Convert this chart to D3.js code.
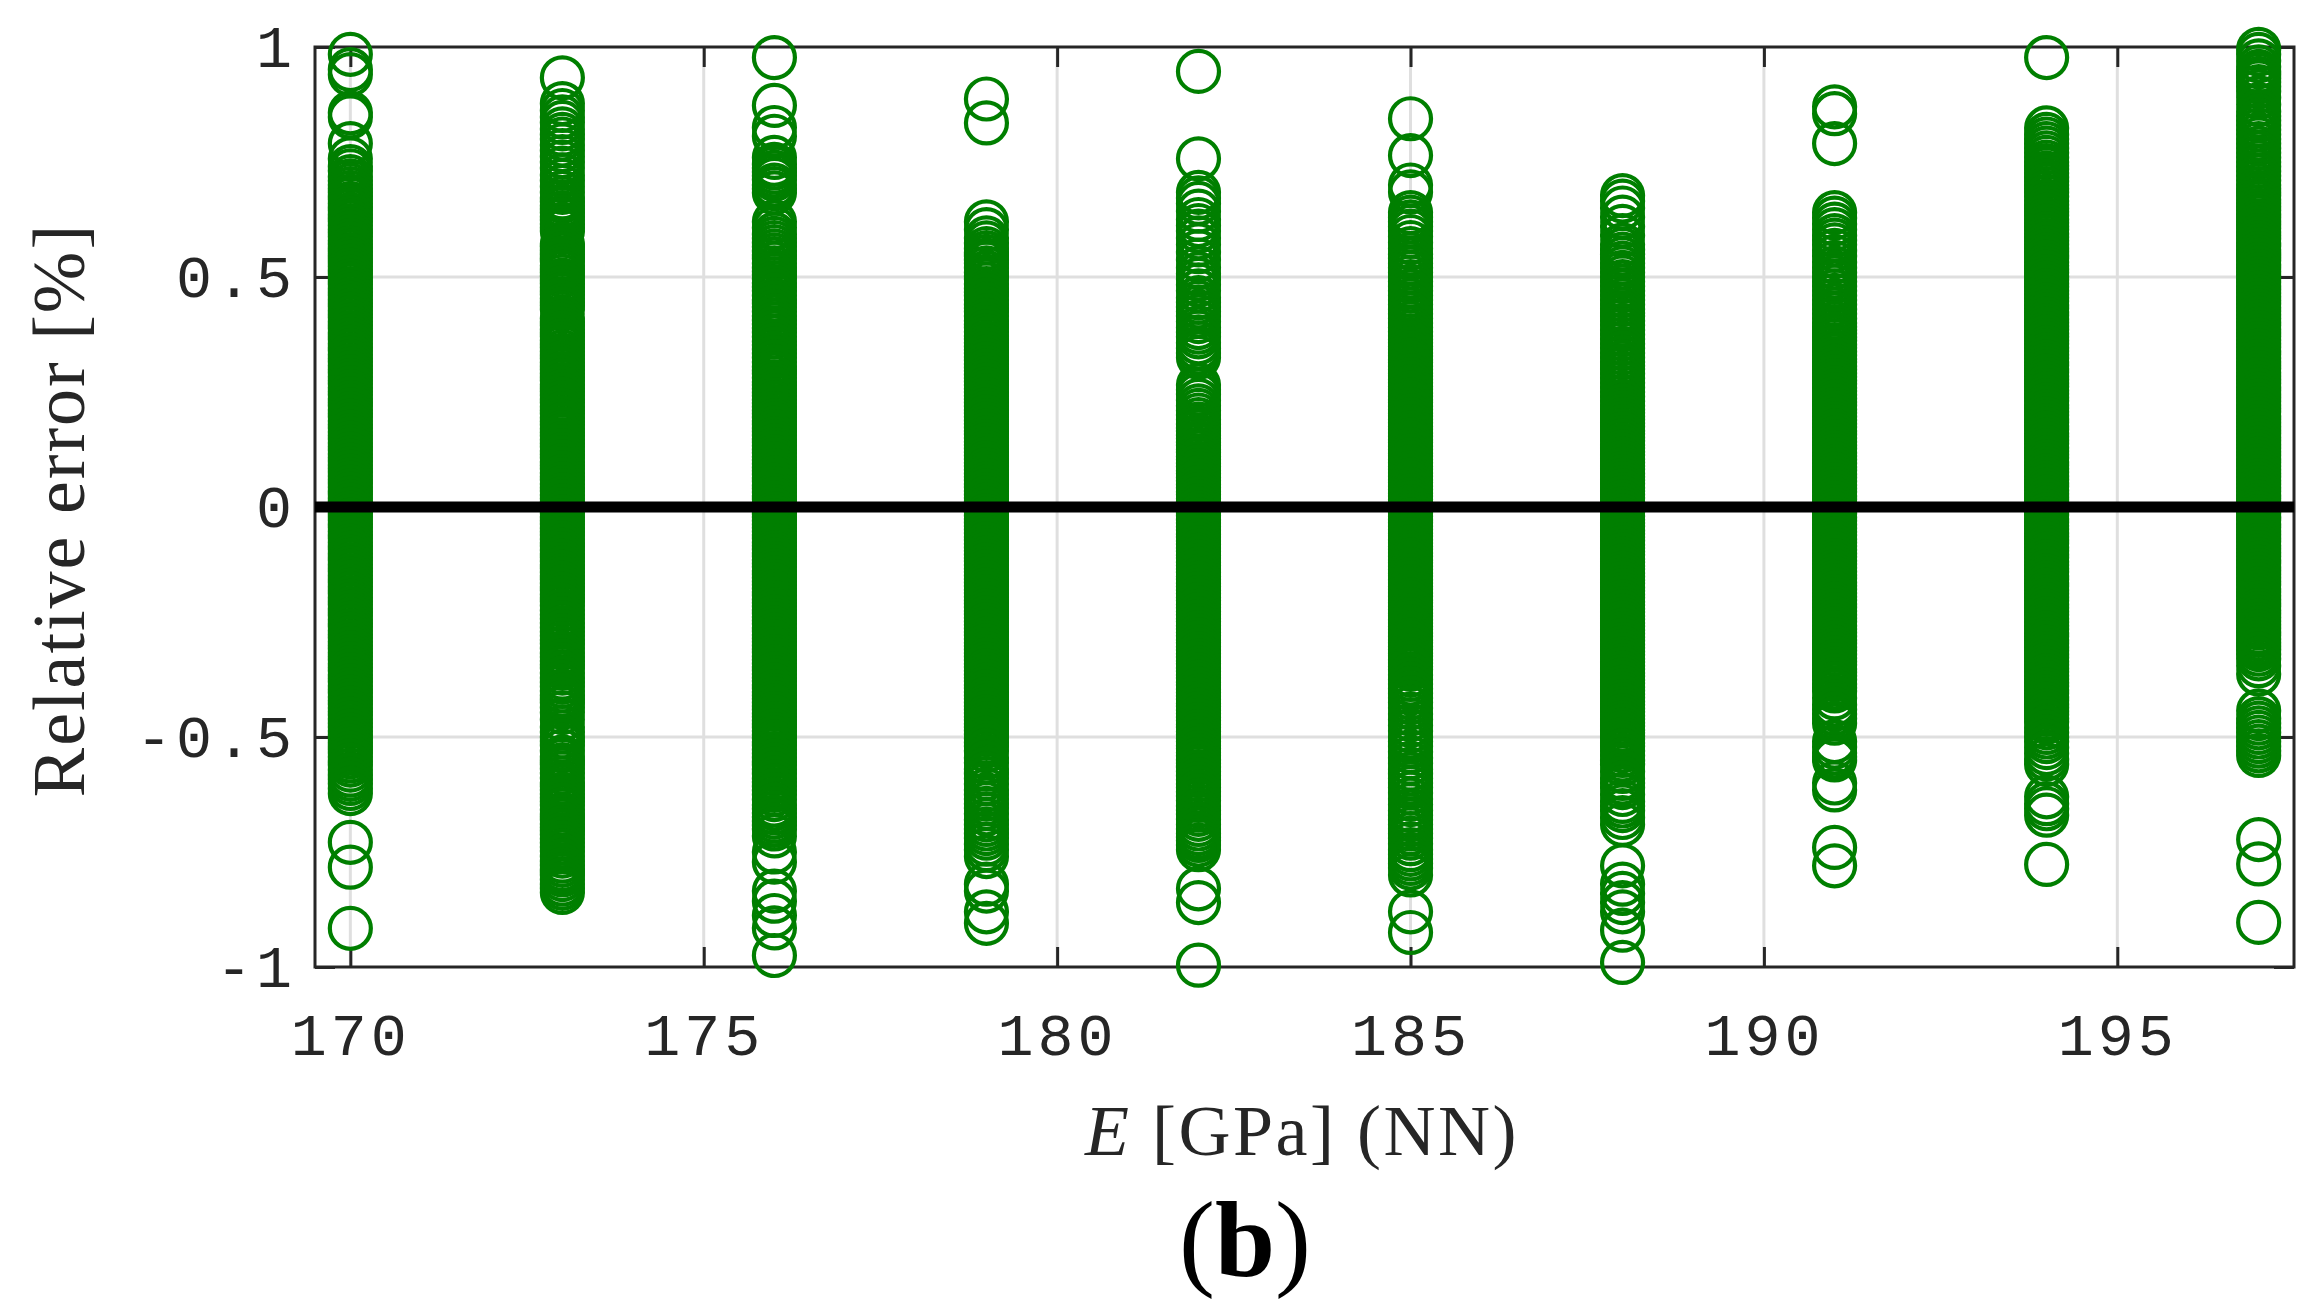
<!DOCTYPE html>
<html><head><meta charset="utf-8">
<script src="https://cdn.jsdelivr.net/npm/d3@7"></script>
<style>body{margin:0;background:#fff}</style>
</head><body>
<svg id="chart" width="2321" height="1310"></svg>
<script>
// ---- data ----
const xTickValues = [170, 175, 180, 185, 190, 195];
const xTickLabels = ["170", "175", "180", "185", "190", "195"];
const yTickValues = [-1, -0.5, 0, 0.5, 1];
const yTickLabels = ["-1", "-0.5", "0", "0.5", "1"];
const moduli = [170, 173, 176, 179, 182, 185, 188, 191, 194, 197];

const err170 = [0.984, 0.951, 0.94, 0.857, 0.848, 0.79, 0.757, 0.74, 0.731, 0.718, 0.709, 0.70, 0.692,
  0.684, 0.676, 0.669, 0.66, 0.652, 0.645, 0.636, 0.628, 0.621, 0.612, 0.603, 0.596, 0.588, 0.579, 0.572, 0.563, 0.556, 0.547, 0.539, 0.532, 0.523, 0.515, 0.508, 0.499, 0.491, 0.484, 0.475, 0.467, 0.46, 0.451, 0.443, 0.436, 0.427, 0.419, 0.412, 0.403, 0.395, 0.388, 0.379, 0.371, 0.364, 0.355, 0.347, 0.34, 0.331, 0.323, 0.316, 0.307, 0.299, 0.292, 0.283, 0.275, 0.268, 0.259, 0.251, 0.244, 0.235, 0.227, 0.22, 0.211, 0.203, 0.196, 0.187, 0.179, 0.172, 0.163, 0.155, 0.148, 0.139, 0.131, 0.124, 0.115, 0.107, 0.1, 0.091, 0.083, 0.076, 0.067, 0.059, 0.052, 0.043, 0.035, 0.028, 0.019, 0.011, 0.004, -0.005, -0.013, -0.02, -0.029, -0.037, -0.044, -0.053, -0.061, -0.068, -0.077, -0.085, -0.092, -0.101, -0.109, -0.116, -0.125, -0.133, -0.14, -0.149, -0.157, -0.164, -0.173, -0.181, -0.188, -0.197, -0.205, -0.212, -0.221, -0.229, -0.236, -0.245, -0.253, -0.26, -0.269, -0.277, -0.284, -0.293, -0.301, -0.308, -0.317, -0.325, -0.332, -0.341, -0.349, -0.356, -0.365, -0.373, -0.38, -0.389, -0.397, -0.404, -0.413, -0.421, -0.428, -0.437, -0.445, -0.452, -0.461,
  -0.47, -0.478, -0.487, -0.496, -0.504, -0.512, -0.52, -0.527, -0.535, -0.543, -0.552, -0.561, -0.572, -0.583, -0.592, -0.601, -0.612, -0.623, -0.729, -0.783, -0.916];
const err173 = [0.933, 0.877, 0.862, 0.848, 0.836, 0.822, 0.81, 0.80, 0.787, 0.775, 0.762, 0.75, 0.737, 0.722, 0.71, 0.697, 0.684,
  0.672, 0.664, 0.655, 0.648, 0.64, 0.631, 0.624, 0.615, 0.607, 0.60, 0.572, 0.566, 0.558, 0.55, 0.541, 0.534, 0.525, 0.517, 0.51, 0.502, 0.493, 0.486, 0.477, 0.469, 0.462, 0.453, 0.445, 0.438, 0.43, 0.41, 0.402, 0.395, 0.386, 0.378, 0.371, 0.362, 0.354, 0.347, 0.338, 0.33, 0.323, 0.314, 0.306, 0.299, 0.29, 0.282, 0.275, 0.266, 0.258, 0.251, 0.243, 0.234, 0.227, 0.218, 0.21, 0.203, 0.194, 0.186, 0.179, 0.17, 0.162, 0.155, 0.146, 0.138, 0.131, 0.122, 0.114, 0.107, 0.098, 0.09, 0.083, 0.074, 0.066, 0.059, 0.05, 0.042, 0.035, 0.026, 0.018, 0.011, 0.002, -0.006, -0.013, -0.022, -0.03, -0.037, -0.046, -0.054, -0.061, -0.07, -0.078, -0.085, -0.094, -0.102, -0.109, -0.118, -0.126, -0.133, -0.142, -0.15, -0.157, -0.166, -0.174, -0.181, -0.19, -0.198, -0.205, -0.214,
  -0.225, -0.234, -0.243, -0.252, -0.262, -0.271, -0.28, -0.289, -0.297, -0.307, -0.318, -0.326, -0.335, -0.343, -0.35, -0.361, -0.372, -0.381, -0.39, -0.40, -0.41, -0.418, -0.425, -0.436, -0.447, -0.462, -0.478, -0.489, -0.50, -0.509, -0.518, -0.53, -0.543, -0.551, -0.56, -0.569, -0.578, -0.589, -0.60, -0.607, -0.615, -0.624, -0.632, -0.64, -0.648, -0.658, -0.668, -0.674, -0.68, -0.689, -0.697, -0.704, -0.712, -0.721, -0.73, -0.739, -0.748, -0.759, -0.77, -0.779, -0.788, -0.794, -0.80, -0.81, -0.82, -0.829, -0.838];
const err176 = [0.977, 0.873, 0.825, 0.806, 0.76, 0.745, 0.737, 0.728, 0.72, 0.712, 0.70, 0.692, 0.683, 0.62, 0.607,
  0.593, 0.584, 0.575, 0.566, 0.557, 0.548, 0.54, 0.53, 0.52, 0.512, 0.505, 0.496, 0.487, 0.478, 0.47, 0.46, 0.45, 0.443, 0.435, 0.425, 0.415, 0.406, 0.398, 0.389, 0.38, 0.37, 0.36, 0.352, 0.343, 0.334, 0.325, 0.315, 0.305, 0.297, 0.29, 0.281,
  0.272, 0.265, 0.257, 0.249, 0.242, 0.233, 0.226, 0.218, 0.21, 0.203, 0.195, 0.187, 0.18, 0.171, 0.164, 0.156, 0.148, 0.141, 0.133, 0.125, 0.118, 0.109, 0.102, 0.094, 0.086, 0.079, 0.071, 0.063, 0.056, 0.047, 0.04, 0.032, 0.024, 0.017, 0.009, 0.001, -0.006, -0.015, -0.022, -0.03, -0.038, -0.045, -0.053, -0.061, -0.068, -0.077, -0.084, -0.092, -0.1, -0.107, -0.115, -0.123, -0.13, -0.139, -0.146, -0.154, -0.162, -0.169, -0.177, -0.185, -0.192, -0.201, -0.208, -0.216, -0.224, -0.231, -0.239, -0.247, -0.254, -0.263, -0.27, -0.278, -0.286, -0.293, -0.301, -0.309, -0.316, -0.325, -0.332, -0.34, -0.348, -0.355, -0.363, -0.371, -0.378, -0.387, -0.394, -0.402, -0.41, -0.417, -0.425, -0.433, -0.44, -0.449, -0.456, -0.464, -0.472, -0.479, -0.487, -0.495, -0.502, -0.511, -0.518,
  -0.527, -0.536, -0.544, -0.553, -0.561, -0.57, -0.58, -0.59, -0.598, -0.607, -0.616, -0.625, -0.636, -0.648, -0.656, -0.665, -0.674, -0.683, -0.692, -0.70, -0.715, -0.75, -0.772, -0.835, -0.857, -0.888, -0.915, -0.975];
const err179 = [0.887, 0.835, 0.62, 0.603, 0.585, 0.574, 0.562, 0.553, 0.545, 0.537, 0.53, 0.52, 0.51, 0.502, 0.495, 0.485, 0.475, 0.467, 0.46, 0.45, 0.44, 0.432, 0.425, 0.415, 0.405, 0.397, 0.39, 0.381,
  0.372, 0.365, 0.357, 0.349, 0.342, 0.334, 0.326, 0.319, 0.311, 0.303, 0.296, 0.288, 0.28, 0.273, 0.265, 0.257, 0.25, 0.242, 0.234, 0.227, 0.219, 0.211, 0.204, 0.196, 0.188, 0.181, 0.173, 0.165, 0.158, 0.15, 0.142, 0.135, 0.127, 0.119, 0.112, 0.104, 0.096, 0.089, 0.081, 0.073, 0.066, 0.058, 0.05, 0.043, 0.035, 0.027, 0.02, 0.012, 0.004, -0.003, -0.011, -0.019, -0.026, -0.034, -0.042, -0.049, -0.057, -0.065, -0.072, -0.08, -0.088, -0.095, -0.103, -0.111, -0.118, -0.126, -0.134, -0.141, -0.149, -0.157, -0.164, -0.172, -0.18, -0.187, -0.195, -0.203, -0.21, -0.218, -0.226, -0.233, -0.241, -0.249, -0.256, -0.264, -0.272, -0.279, -0.287, -0.295, -0.302, -0.31, -0.318, -0.325, -0.333, -0.341, -0.348, -0.356, -0.364, -0.371, -0.379, -0.387, -0.394, -0.402, -0.41, -0.417, -0.425, -0.433, -0.44, -0.448, -0.456, -0.463, -0.471, -0.479, -0.486, -0.494,
  -0.503, -0.512, -0.52, -0.53, -0.545, -0.556, -0.57, -0.58, -0.59, -0.602, -0.615, -0.625, -0.635, -0.645, -0.655, -0.667, -0.68, -0.69, -0.70, -0.71, -0.72, -0.733, -0.745, -0.76, -0.82, -0.835, -0.88, -0.905];
const err182 = [0.947, 0.757, 0.684, 0.672, 0.66, 0.643, 0.625, 0.612, 0.60, 0.585, 0.57, 0.555, 0.537, 0.52, 0.507, 0.495, 0.483, 0.47, 0.455, 0.445, 0.435, 0.425, 0.415, 0.403, 0.39, 0.38, 0.37, 0.357, 0.345, 0.335, 0.325, 0.265, 0.255, 0.245, 0.232, 0.22, 0.21, 0.20, 0.19, 0.18,
  0.172, 0.165, 0.156, 0.149, 0.141, 0.134, 0.125, 0.119, 0.11, 0.103, 0.095, 0.088, 0.079, 0.073, 0.064, 0.057, 0.049, 0.042, 0.033, 0.027, 0.018, 0.011, 0.003, -0.004, -0.013, -0.019, -0.028, -0.035, -0.043, -0.05, -0.059, -0.065, -0.074, -0.081, -0.089, -0.096, -0.105, -0.111, -0.12, -0.127, -0.135, -0.142, -0.151, -0.157, -0.166, -0.173, -0.181, -0.188, -0.197, -0.203, -0.212, -0.219, -0.227, -0.234, -0.243, -0.249, -0.258, -0.265, -0.273, -0.28, -0.289, -0.295, -0.304, -0.311, -0.319, -0.326, -0.335, -0.341, -0.35, -0.357, -0.365, -0.372, -0.381, -0.387, -0.396, -0.403, -0.411, -0.418, -0.427, -0.433, -0.442, -0.449, -0.457, -0.464, -0.473, -0.479, -0.488, -0.495, -0.503, -0.51, -0.519, -0.525, -0.534, -0.541, -0.549,
  -0.557, -0.566, -0.575, -0.584, -0.593, -0.602, -0.61, -0.619, -0.628, -0.638, -0.65, -0.659, -0.668, -0.679, -0.69, -0.70, -0.71, -0.718, -0.725, -0.735, -0.745, -0.83, -0.86, -0.996];
const err185 = [0.844, 0.764, 0.70, 0.685, 0.64, 0.63, 0.62, 0.61, 0.60, 0.588, 0.575, 0.562, 0.55, 0.54, 0.53, 0.52, 0.51, 0.50, 0.49, 0.48, 0.47, 0.46, 0.45, 0.44, 0.43, 0.42, 0.41, 0.40, 0.39, 0.381,
  0.372, 0.364, 0.357, 0.349, 0.343, 0.335, 0.328, 0.32, 0.314, 0.306, 0.299, 0.291, 0.285, 0.277, 0.27, 0.262, 0.256, 0.248, 0.241, 0.233, 0.227, 0.219, 0.212, 0.204, 0.198, 0.19, 0.183, 0.175, 0.169, 0.161, 0.154, 0.146, 0.14, 0.132, 0.125, 0.117, 0.111, 0.103, 0.096, 0.088, 0.082, 0.074, 0.067, 0.059, 0.053, 0.045, 0.038, 0.03, 0.024, 0.016, 0.009, 0.001, -0.005, -0.013, -0.02, -0.028, -0.034, -0.042, -0.049, -0.057, -0.063, -0.071, -0.078, -0.086, -0.092, -0.1, -0.107, -0.115, -0.121, -0.129, -0.136, -0.144, -0.15, -0.158, -0.165, -0.173, -0.179, -0.187, -0.194, -0.202, -0.208, -0.216, -0.223, -0.231, -0.237, -0.245, -0.252, -0.26, -0.266, -0.274, -0.281, -0.289, -0.295, -0.303, -0.31, -0.318, -0.324, -0.332, -0.339, -0.347, -0.353,
  -0.365, -0.375, -0.385, -0.395, -0.405, -0.415, -0.425, -0.437, -0.45, -0.462, -0.475, -0.487, -0.50, -0.51, -0.52, -0.532, -0.545, -0.557, -0.57, -0.58, -0.59, -0.60, -0.61, -0.622, -0.635, -0.647, -0.66, -0.67, -0.68, -0.69, -0.70, -0.71, -0.72, -0.732, -0.745, -0.755, -0.765, -0.775, -0.785, -0.80, -0.88, -0.925];
const err188 = [0.677, 0.665, 0.65, 0.63, 0.61, 0.59, 0.57, 0.56, 0.55, 0.54, 0.53, 0.52, 0.51, 0.50, 0.49, 0.48, 0.47, 0.46, 0.45, 0.44, 0.43, 0.422, 0.415, 0.405, 0.395, 0.385, 0.375, 0.365, 0.355, 0.345, 0.335, 0.325, 0.315, 0.307, 0.30, 0.29, 0.28, 0.27, 0.26, 0.25, 0.24, 0.23, 0.22, 0.212, 0.205,
  0.197, 0.19, 0.182, 0.175, 0.166, 0.159, 0.151, 0.144, 0.135, 0.128, 0.12, 0.113, 0.104, 0.097, 0.089, 0.082, 0.073, 0.066, 0.058, 0.051, 0.042, 0.035, 0.027, 0.02, 0.011, 0.004, -0.004, -0.011, -0.02, -0.027, -0.035, -0.042, -0.051, -0.058, -0.066, -0.073, -0.082, -0.089, -0.097, -0.104, -0.113, -0.12, -0.128, -0.135, -0.144, -0.151, -0.159, -0.166, -0.175, -0.182, -0.19, -0.197, -0.206, -0.213, -0.221, -0.228, -0.237, -0.244, -0.252, -0.259, -0.268, -0.275, -0.283, -0.29, -0.299, -0.306, -0.314, -0.321, -0.33, -0.337, -0.345, -0.352, -0.361, -0.368, -0.376, -0.383, -0.392, -0.399, -0.407, -0.414, -0.423, -0.43, -0.438, -0.445, -0.454, -0.461, -0.469, -0.476, -0.485, -0.491,
  -0.498, -0.505, -0.513, -0.52, -0.53, -0.54, -0.55, -0.56, -0.575, -0.59, -0.60, -0.61, -0.625, -0.64, -0.65, -0.66, -0.675, -0.69, -0.78, -0.82, -0.84, -0.86, -0.88, -0.92, -0.99];
const err191 = [0.87, 0.855, 0.79, 0.64, 0.628, 0.615, 0.603, 0.59, 0.58, 0.57, 0.558, 0.545, 0.532, 0.52, 0.51, 0.50, 0.49, 0.48, 0.47, 0.46, 0.45, 0.44, 0.43, 0.42, 0.41, 0.40, 0.392, 0.385,
  0.377, 0.369, 0.362, 0.353, 0.346, 0.338, 0.33, 0.322, 0.315, 0.306, 0.299, 0.291, 0.283, 0.275, 0.268, 0.259, 0.252, 0.244, 0.236, 0.228, 0.221, 0.212, 0.205, 0.197, 0.189, 0.181, 0.174, 0.165, 0.158, 0.15, 0.142, 0.134, 0.127, 0.118, 0.111, 0.103, 0.095, 0.087, 0.08, 0.071, 0.064, 0.056, 0.048, 0.04, 0.033, 0.024, 0.017, 0.009, 0.001, -0.007, -0.014, -0.023, -0.03, -0.038, -0.046, -0.054, -0.061, -0.07, -0.077, -0.085, -0.093, -0.101, -0.108, -0.117, -0.124, -0.132, -0.14, -0.148, -0.155, -0.164, -0.171, -0.179, -0.187, -0.195, -0.202, -0.211, -0.218, -0.226, -0.234, -0.242, -0.249, -0.258, -0.265, -0.273, -0.281, -0.289, -0.296, -0.305, -0.312, -0.32, -0.328, -0.336, -0.343, -0.352, -0.359, -0.367, -0.375,
  -0.385, -0.393, -0.40, -0.415, -0.43, -0.44, -0.45, -0.46, -0.47, -0.51, -0.522, -0.535, -0.543, -0.55, -0.60, -0.615, -0.74, -0.78];
const err194 = [0.977, 0.824, 0.81, 0.80, 0.79, 0.78, 0.77, 0.76, 0.75, 0.742, 0.735, 0.726, 0.717, 0.708, 0.70, 0.692, 0.684, 0.675, 0.665,
  0.657, 0.649, 0.642, 0.634, 0.625, 0.618, 0.61, 0.603, 0.594, 0.587, 0.579, 0.572, 0.563, 0.556, 0.548, 0.541, 0.532, 0.525, 0.517, 0.51, 0.501, 0.494, 0.486, 0.479, 0.47, 0.463, 0.455, 0.448, 0.439, 0.432, 0.424, 0.417, 0.408, 0.401, 0.393, 0.386, 0.377, 0.37, 0.362, 0.355, 0.346, 0.339, 0.331, 0.324, 0.315, 0.308, 0.3, 0.293, 0.284, 0.277, 0.269, 0.262, 0.253, 0.246, 0.238, 0.231, 0.222, 0.215, 0.207, 0.2, 0.191, 0.184, 0.176, 0.169, 0.16, 0.153, 0.145, 0.138, 0.129, 0.122, 0.114, 0.107, 0.098, 0.091, 0.083, 0.076, 0.067, 0.06, 0.052, 0.045, 0.036, 0.029, 0.021, 0.014, 0.005, -0.002, -0.01, -0.017, -0.026, -0.033, -0.041, -0.048, -0.057, -0.064, -0.072, -0.079, -0.088, -0.095, -0.103, -0.11, -0.119, -0.126, -0.134, -0.141, -0.15, -0.157, -0.165, -0.172, -0.181, -0.188, -0.196, -0.203, -0.212, -0.219, -0.227, -0.234, -0.243, -0.25, -0.258, -0.265, -0.274, -0.281, -0.289, -0.296, -0.305, -0.312, -0.32, -0.327, -0.336, -0.343, -0.351, -0.358, -0.367, -0.374, -0.382, -0.389, -0.398, -0.405, -0.413, -0.42, -0.429, -0.436, -0.444, -0.451, -0.46, -0.467,
  -0.48, -0.49, -0.50, -0.51, -0.523, -0.536, -0.548, -0.56, -0.63, -0.645, -0.656, -0.67, -0.777];
const err197 = [0.995, 0.984, 0.97, 0.957, 0.947, 0.94, 0.932, 0.924, 0.914, 0.904, 0.89, 0.875, 0.86, 0.85, 0.84, 0.83, 0.82, 0.81, 0.80, 0.79, 0.78, 0.77, 0.76, 0.75, 0.74, 0.73, 0.72, 0.71, 0.70, 0.692,
  0.684, 0.677, 0.668, 0.661, 0.653, 0.645, 0.637, 0.63, 0.621, 0.614, 0.606, 0.598, 0.59, 0.583, 0.574, 0.567, 0.559, 0.551, 0.543, 0.536, 0.527, 0.52, 0.512, 0.504, 0.496, 0.489, 0.48, 0.473, 0.465, 0.457, 0.449, 0.442, 0.433, 0.426, 0.418, 0.41, 0.402, 0.395, 0.386, 0.379, 0.371, 0.363, 0.355, 0.348, 0.339, 0.332, 0.324, 0.316, 0.308, 0.301, 0.292, 0.285, 0.277, 0.269, 0.261, 0.254, 0.245, 0.238, 0.23, 0.222, 0.214, 0.207, 0.198, 0.191, 0.183, 0.175, 0.167, 0.16, 0.151, 0.144, 0.136, 0.128, 0.12, 0.113, 0.104, 0.097, 0.089, 0.081, 0.073, 0.066, 0.057, 0.05, 0.042, 0.034, 0.026, 0.019, 0.01, 0.003, -0.005, -0.013, -0.021, -0.028, -0.037, -0.044, -0.052, -0.06, -0.068, -0.075, -0.084, -0.091, -0.099, -0.107, -0.115, -0.122, -0.131, -0.138, -0.146, -0.154, -0.162, -0.169, -0.178, -0.185, -0.193, -0.201, -0.209, -0.216, -0.225, -0.232, -0.24, -0.248, -0.256, -0.263, -0.272, -0.279, -0.287, -0.295, -0.302,
  -0.31, -0.32, -0.33, -0.345, -0.363, -0.443, -0.46, -0.47, -0.48, -0.49, -0.50, -0.51, -0.52, -0.53, -0.54, -0.723, -0.776, -0.903];

const errors = [err170, err173, err176, err179, err182, err185, err188, err191, err194, err197];

// ---- drawing ----
const svg = d3.select("#chart");
const L = 315, R = 2294, T = 47, B = 967;
const x = d3.scaleLinear().domain([169.5, 197.5]).range([L, R]);
const y = d3.scaleLinear().domain([-1, 1]).range([B, T]);
const axisColor = "#262626";

svg.append("rect").attr("width", 2321).attr("height", 1310).attr("fill", "#fff");

// grid
const grid = svg.append("g").attr("stroke", "#dfdfdf").attr("stroke-width", 3);
grid.selectAll("line.gx").data(xTickValues).join("line").attr("class", "gx")
  .attr("x1", d => x(d)).attr("x2", d => x(d)).attr("y1", T).attr("y2", B);
grid.selectAll("line.gy").data(yTickValues.filter(v => v > -1 && v < 1)).join("line").attr("class", "gy")
  .attr("y1", d => y(d)).attr("y2", d => y(d)).attr("x1", L).attr("x2", R);

const fmtX = d => xTickLabels[xTickValues.indexOf(d)];
const fmtY = d => yTickLabels[yTickValues.indexOf(d)];

function styleAxis(g) {
  g.select(".domain").remove();
  g.selectAll(".tick line").attr("stroke", axisColor).attr("stroke-width", 3);
  g.selectAll(".tick text").attr("fill", axisColor)
    .style("font-family", "'Liberation Mono', monospace")
    .style("font-size", "60px").style("letter-spacing", "4px");
}

svg.append("g").attr("transform", `translate(0,${B})`)
  .call(d3.axisBottom(x).tickValues(xTickValues).tickFormat(fmtX).tickSizeInner(-20).tickSizeOuter(0).tickPadding(45))
  .call(styleAxis);
svg.append("g").attr("transform", `translate(0,${T})`)
  .call(d3.axisTop(x).tickValues(xTickValues).tickFormat("").tickSizeInner(-20).tickSizeOuter(0))
  .call(styleAxis);
svg.append("g").attr("transform", `translate(${L},0)`)
  .call(d3.axisLeft(y).tickValues(yTickValues).tickFormat(fmtY).tickSizeInner(-20).tickSizeOuter(0).tickPadding(19))
  .call(styleAxis);
svg.append("g").attr("transform", `translate(${R},0)`)
  .call(d3.axisRight(y).tickValues(yTickValues).tickFormat("").tickSizeInner(-20).tickSizeOuter(0))
  .call(styleAxis);

svg.append("rect").attr("x", L).attr("y", T).attr("width", R - L).attr("height", B - T)
  .attr("fill", "none").attr("stroke", axisColor).attr("stroke-width", 3);

// points
const pts = [];
moduli.forEach((m, i) => errors[i].forEach(v => pts.push({ m, v })));
svg.append("g").selectAll("circle").data(pts).join("circle")
  .attr("cx", d => x(d.m)).attr("cy", d => y(d.v)).attr("r", 20.5)
  .attr("fill", "none").attr("stroke", "#007f00").attr("stroke-width", 4.2);

// zero line
svg.append("line").attr("x1", x(169.5)).attr("x2", x(197.5)).attr("y1", y(0)).attr("y2", y(0))
  .attr("stroke", "#000").attr("stroke-width", 11);

// titles
const xt = svg.append("text").attr("x", 1302).attr("y", 1155).attr("text-anchor", "middle")
  .attr("fill", axisColor).style("font-family", "'Liberation Serif', serif")
  .style("font-size", "72px").style("letter-spacing", "2.5px");
xt.append("tspan").style("font-style", "italic").text("E");
xt.append("tspan").text(" [GPa] (NN)");

svg.append("text").attr("transform", "translate(84,510) rotate(-90)").attr("text-anchor", "middle")
  .attr("fill", axisColor).style("font-family", "'Liberation Serif', serif")
  .style("font-size", "74px").style("letter-spacing", "2px")
  .text("Relative error [%]");

const bt = svg.append("text").attr("x", 1245).attr("y", 1276).attr("text-anchor", "middle")
  .attr("fill", "#000").style("font-family", "'Liberation Serif', serif").style("font-size", "108px");
bt.append("tspan").text("(");
bt.append("tspan").style("font-weight", "bold").text("b");
bt.append("tspan").text(")");
</script>
</body></html>
